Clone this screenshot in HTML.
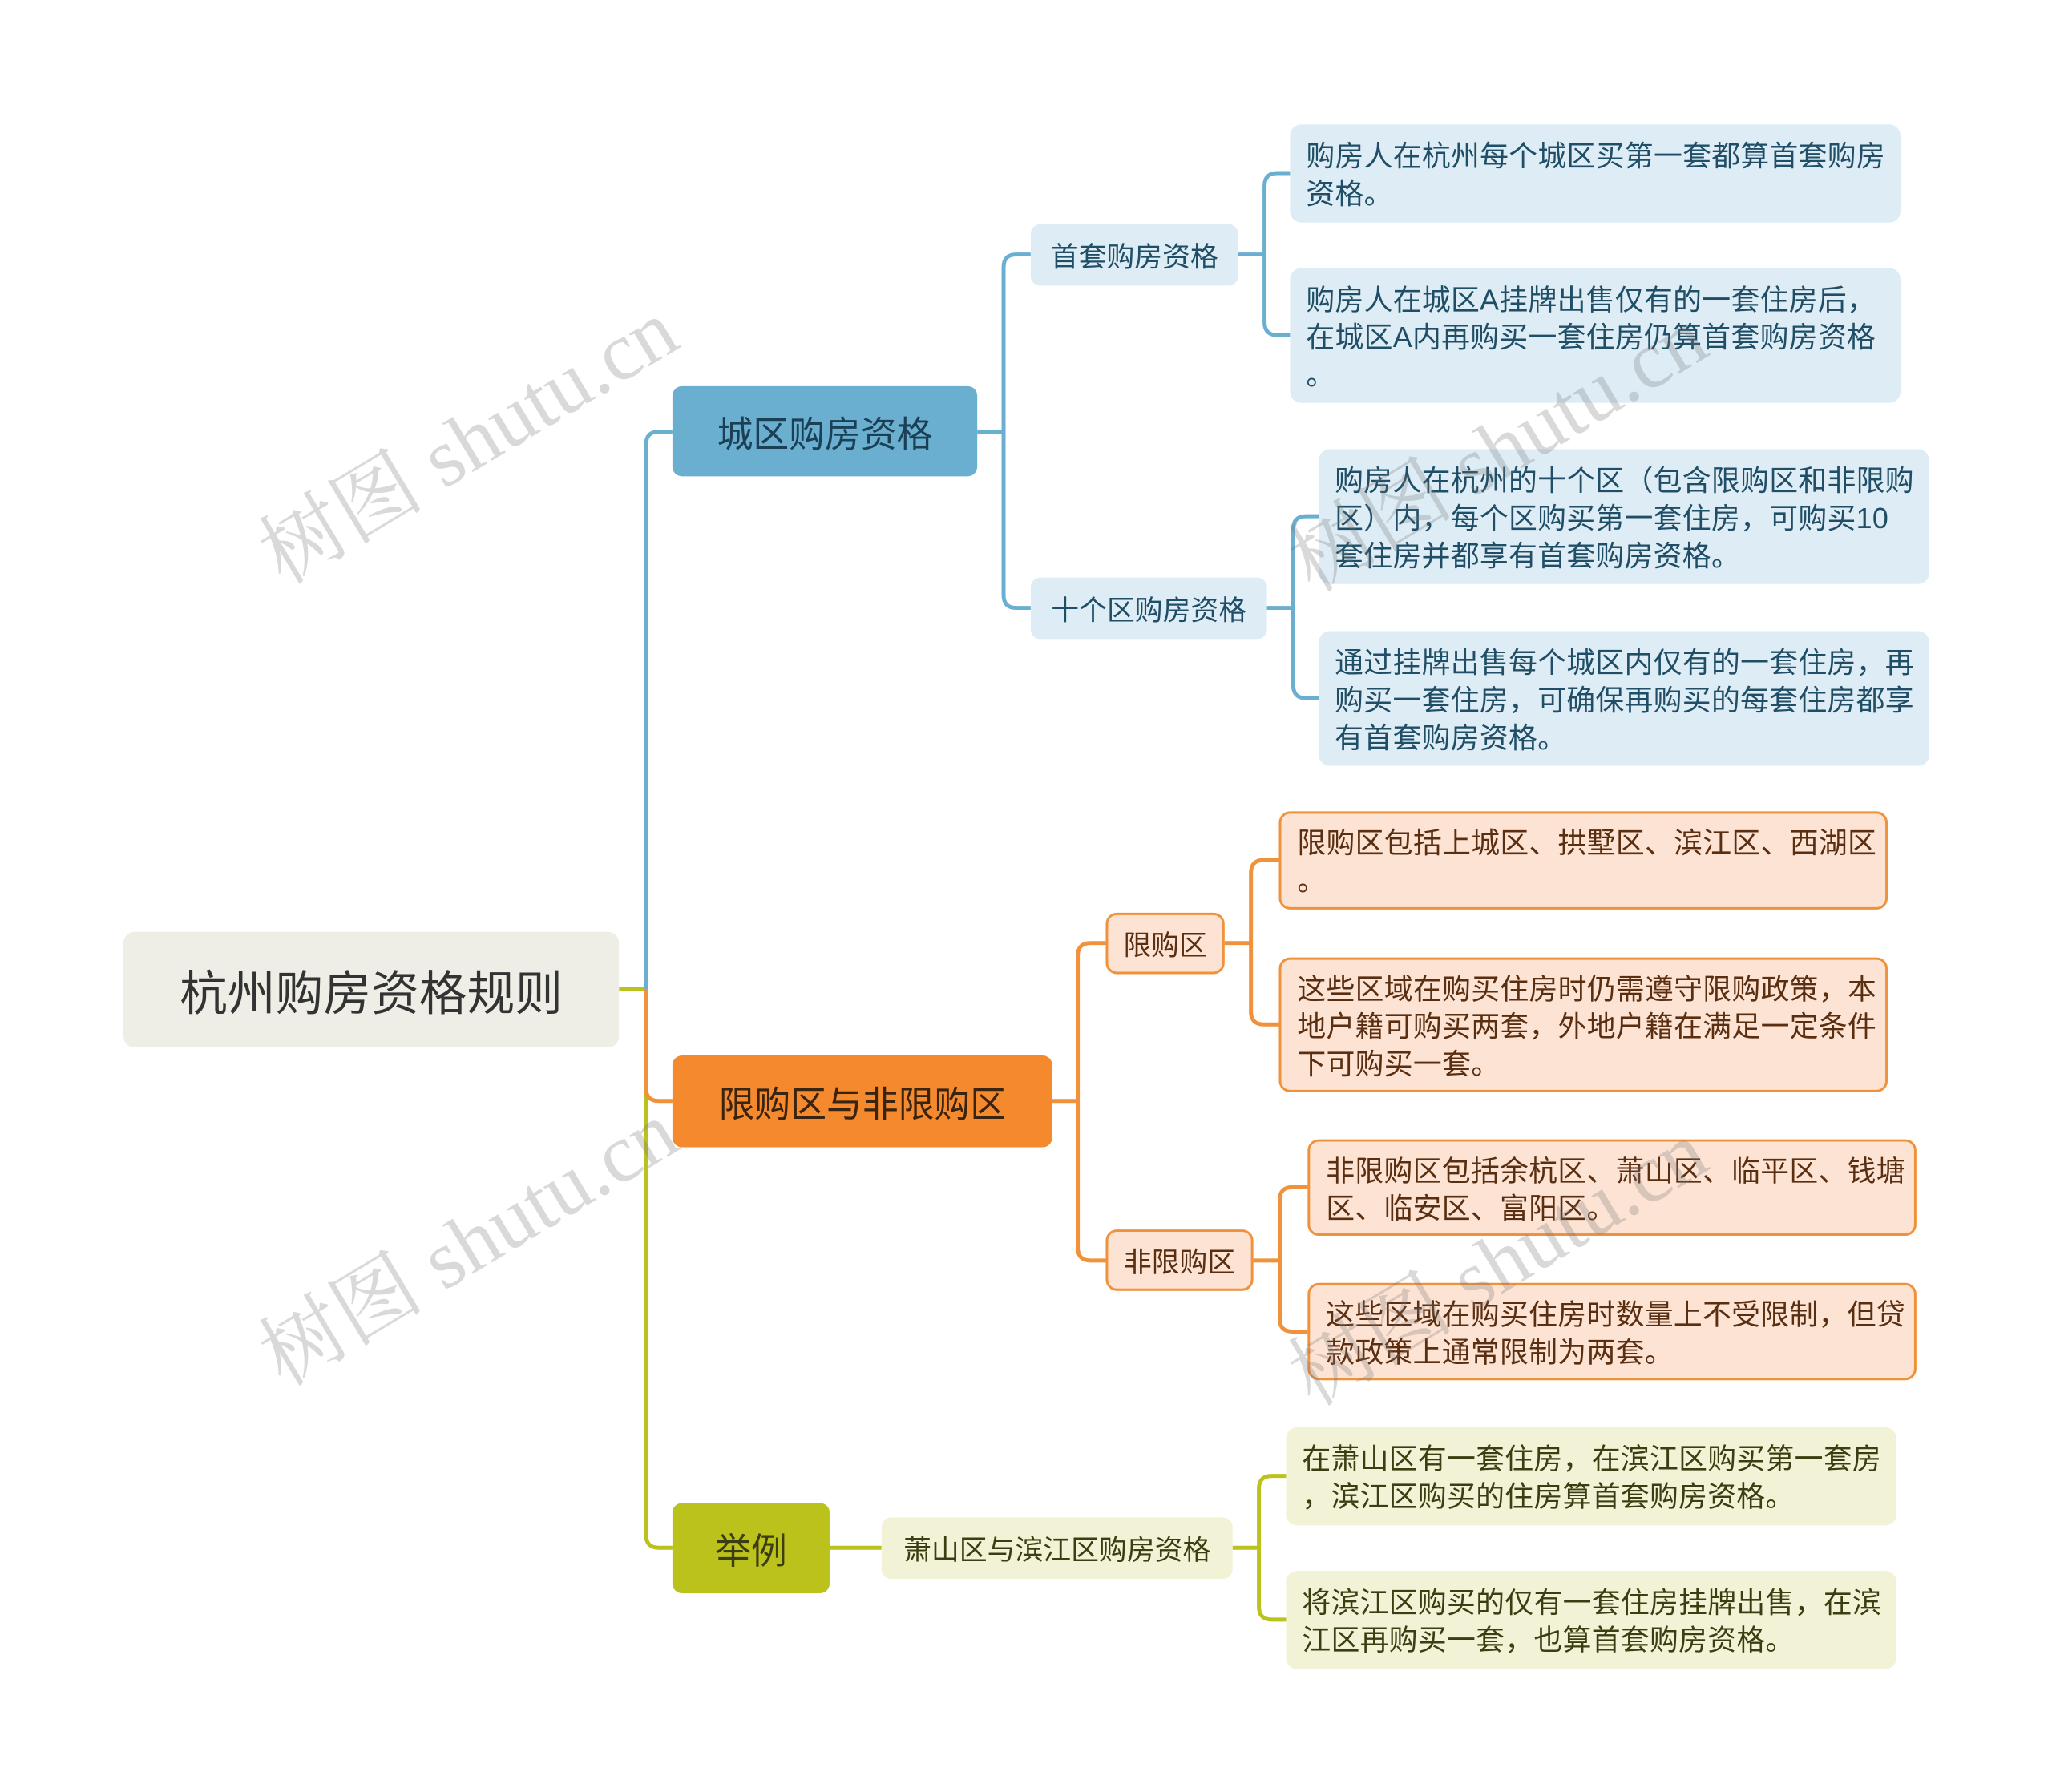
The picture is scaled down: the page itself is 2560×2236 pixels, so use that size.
<!DOCTYPE html>
<html><head><meta charset="utf-8"><style>
html,body{margin:0;padding:0;background:#fff;}
body{width:2560px;height:2236px;position:relative;overflow:hidden;font-family:"Liberation Sans","Noto Sans CJK SC",sans-serif;}
#w{position:absolute;left:0;top:0;width:2560px;height:2236px;transform:scale(0.9955);transform-origin:154px 0;}
.n{position:absolute;box-sizing:border-box;display:flex;align-items:center;white-space:nowrap;}
.leaf{position:absolute;box-sizing:border-box;font-size:36px;line-height:47px;letter-spacing:0.3px;padding:16px 0 0 20px;border-radius:14px;white-space:nowrap;}
.b{background:#deedf5;color:#1f4e66;}
.o{background:#fde3d3;color:#5a2e10;border:3px solid #f0913c;}
.g{background:#f1f2d6;color:#3d3d12;}
.wm{position:absolute;font-family:"Liberation Serif","Noto Serif CJK SC",serif;font-size:104px;color:rgba(120,120,120,0.28);transform:rotate(-31deg);transform-origin:left bottom;white-space:nowrap;}
</style></head><body><div id="w">
<svg width="2560" height="2236" style="position:absolute;left:0;top:0" fill="none" stroke-width="5">
<path d="M775 1240 H809" stroke="#bcc21c"/>
<path d="M809 1240 V557 Q809 541 825 541 H842" stroke="#6aafd0"/>
<path d="M809 1240 V1924 Q809 1940 825 1940 H842" stroke="#bcc21c"/>
<path d="M809 1240 V1364 Q809 1380 825 1380 H842" stroke="#f0913c"/>
<path d="M1224 541 H1257 M1257 541 V335 Q1257 319 1273 319 H1291 M1257 541 V746 Q1257 762 1273 762 H1291" stroke="#6aafd0"/>
<path d="M1551 319 H1584 M1584 319 V233 Q1584 217 1600 217 H1616 M1584 319 V404 Q1584 420 1600 420 H1616" stroke="#6aafd0"/>
<path d="M1587 762 H1620 M1620 762 V663 Q1620 647 1636 647 H1652 M1620 762 V859 Q1620 875 1636 875 H1652" stroke="#6aafd0"/>
<path d="M1318 1380 H1350 M1350 1380 V1198 Q1350 1182 1366 1182 H1385 M1350 1380 V1564 Q1350 1580 1366 1580 H1385" stroke="#f0913c"/>
<path d="M1534 1182 H1567 M1567 1182 V1094 Q1567 1078 1583 1078 H1602 M1567 1182 V1268 Q1567 1284 1583 1284 H1602" stroke="#f0913c"/>
<path d="M1570 1580 H1603 M1603 1580 V1504 Q1603 1488 1619 1488 H1638 M1603 1580 V1653 Q1603 1669 1619 1669 H1638" stroke="#f0913c"/>
<path d="M1039 1940 H1104" stroke="#bcc21c"/>
<path d="M1544 1940 H1577 M1577 1940 V1866 Q1577 1850 1593 1850 H1611 M1577 1940 V2014 Q1577 2030 1593 2030 H1611" stroke="#bcc21c"/>
</svg>

<div class="n" style="left:154px;top:1168px;width:621px;height:145px;background:#efeee6;border-radius:14px;justify-content:center;font-size:60px;color:#333;">杭州购房资格规则</div>

<div class="n" style="left:842px;top:484px;width:382px;height:113px;background:#6aafd0;border-radius:12px;justify-content:center;font-size:45px;color:#1b3f55;">城区购房资格</div>
<div class="n" style="left:842px;top:1323px;width:476px;height:115px;background:#f5892e;border-radius:12px;justify-content:center;font-size:45px;color:#3a2410;">限购区与非限购区</div>
<div class="n" style="left:842px;top:1884px;width:197px;height:113px;background:#bcc21c;border-radius:12px;justify-content:center;font-size:45px;color:#3d3d12;">举例</div>

<div class="n b" style="left:1291px;top:281px;width:260px;height:77px;border-radius:12px;justify-content:center;font-size:35px;">首套购房资格</div>
<div class="n b" style="left:1291px;top:724px;width:296px;height:77px;border-radius:12px;justify-content:center;font-size:35px;">十个区购房资格</div>
<div class="n o" style="left:1385px;top:1144px;width:149px;height:77px;border-radius:14px;justify-content:center;font-size:35px;">限购区</div>
<div class="n o" style="left:1385px;top:1541px;width:185px;height:77px;border-radius:14px;justify-content:center;font-size:35px;">非限购区</div>
<div class="n g" style="left:1104px;top:1902px;width:440px;height:77px;border-radius:12px;justify-content:center;font-size:35px;">萧山区与滨江区购房资格</div>

<div class="leaf b" style="left:1616px;top:156px;width:765px;height:123px;">购房人在杭州每个城区买第一套都算首套购房<br>资格。</div>
<div class="leaf b" style="left:1616px;top:336px;width:765px;height:169px;">购房人在城区A挂牌出售仅有的一套住房后，<br>在城区A内再购买一套住房仍算首套购房资格<br>。</div>
<div class="leaf b" style="left:1652px;top:563px;width:765px;height:169px;">购房人在杭州的十个区（包含限购区和非限购<br>区）内，每个区购买第一套住房，可购买10<br>套住房并都享有首套购房资格。</div>
<div class="leaf b" style="left:1652px;top:791px;width:765px;height:169px;">通过挂牌出售每个城区内仅有的一套住房，再<br>购买一套住房，可确保再购买的每套住房都享<br>有首套购房资格。</div>
<div class="leaf o" style="left:1602px;top:1017px;width:763px;height:123px;padding-top:13px;">限购区包括上城区、拱墅区、滨江区、西湖区<br>。</div>
<div class="leaf o" style="left:1602px;top:1200px;width:763px;height:169px;padding-top:13px;">这些区域在购买住房时仍需遵守限购政策，本<br>地户籍可购买两套，外地户籍在满足一定条件<br>下可购买一套。</div>
<div class="leaf o" style="left:1638px;top:1428px;width:763px;height:121px;padding-top:13px;">非限购区包括余杭区、萧山区、临平区、钱塘<br>区、临安区、富阳区。</div>
<div class="leaf o" style="left:1638px;top:1608px;width:763px;height:122px;padding-top:13px;">这些区域在购买住房时数量上不受限制，但贷<br>款政策上通常限制为两套。</div>
<div class="leaf g" style="left:1611px;top:1789px;width:765px;height:123px;">在萧山区有一套住房，在滨江区购买第一套房<br>，滨江区购买的住房算首套购房资格。</div>
<div class="leaf g" style="left:1611px;top:1969px;width:765px;height:123px;">将滨江区购买的仅有一套住房挂牌出售，在滨<br>江区再购买一套，也算首套购房资格。</div>

<div class="wm" style="left:370px;top:610px;">树图 shutu.cn</div>
<div class="wm" style="left:370px;top:1615px;">树图 shutu.cn</div>
<div class="wm" style="left:1660px;top:620px;">树图 shutu.cn</div>
<div class="wm" style="left:1660px;top:1640px;">树图 shutu.cn</div>
</div></body></html>
